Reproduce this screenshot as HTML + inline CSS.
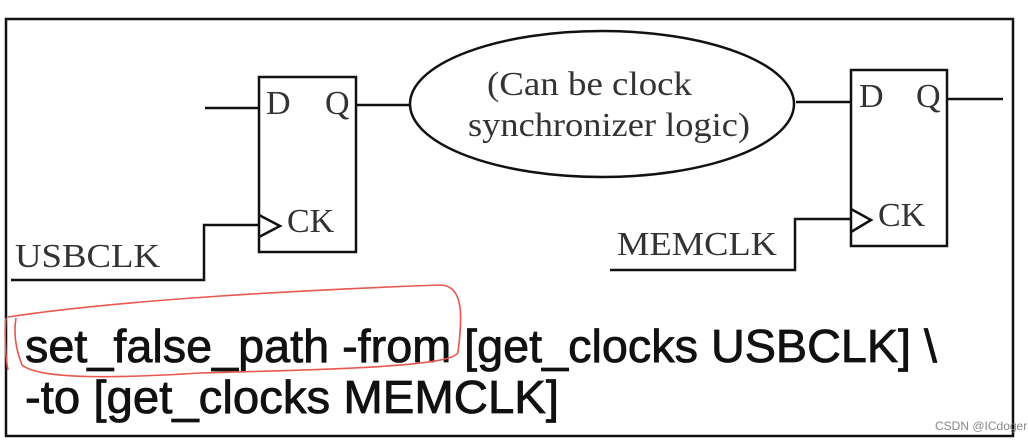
<!DOCTYPE html>
<html><head><meta charset="utf-8"><style>
html,body{margin:0;padding:0;background:#fff;}
svg{display:block;}
</style></head><body>
<svg width="1028" height="443" viewBox="0 0 1028 443" xmlns="http://www.w3.org/2000/svg">
<rect x="0" y="0" width="1028" height="443" fill="#fff"/>
<rect x="6" y="19" width="1007" height="417" fill="none" stroke="#111" stroke-width="2.5"/>
<g stroke="#111" stroke-width="2.5" fill="none">
<rect x="259" y="77" width="97" height="175"/>
<line x1="205" y1="108" x2="259" y2="108"/>
<line x1="356" y1="105" x2="410" y2="105"/>
<polyline points="259,215 280,226 259,237"/>
<polyline points="11,280 204,280 204,225 259,225"/>
<ellipse cx="602" cy="104" rx="192" ry="73"/>
<rect x="851" y="70" width="96" height="176"/>
<line x1="796" y1="102" x2="851" y2="102"/>
<line x1="947" y1="99" x2="1003" y2="99"/>
<polyline points="851,209 871,220 851,232"/>
<polyline points="610,270 795,270 795,219 851,219"/>
</g>
<g font-family="Liberation Serif, serif" fill="#333" font-size="34">
<text x="266" y="114">D</text>
<text x="325" y="114">Q</text>
<text x="287" y="232">CK</text>
<text x="15" y="267" textLength="145" lengthAdjust="spacingAndGlyphs">USBCLK</text>
<text x="487" y="95" textLength="205" lengthAdjust="spacingAndGlyphs">(Can be clock</text>
<text x="468" y="136" textLength="282" lengthAdjust="spacingAndGlyphs">synchronizer logic)</text>
<text x="859" y="107">D</text>
<text x="916" y="107">Q</text>
<text x="878" y="226">CK</text>
<text x="617" y="255" textLength="160" lengthAdjust="spacingAndGlyphs">MEMCLK</text>
</g>
<g font-family="Liberation Sans, sans-serif" fill="#111" font-size="46" stroke="#111" stroke-width="0.8">
<text x="25" y="362" textLength="912" lengthAdjust="spacingAndGlyphs">set_false_path -from [get_clocks USBCLK] \</text>
<text x="25" y="413" textLength="534" lengthAdjust="spacingAndGlyphs">-to [get_clocks MEMCLK]</text>
</g>
<path d="M8,317 C120,300 300,290 440,285 C465,285 462,320 458,352 C456,368 300,370 200,373 C120,378 40,380 22,365 C14,345 14,330 16,318 M6,318 C4,335 6,360 8,370" fill="none" stroke="#e8584f" stroke-width="1.6"/>
<text x="935" y="430" font-family="Liberation Sans, sans-serif" font-size="12" fill="#888">CSDN @ICdoger</text>
</svg>
</body></html>
